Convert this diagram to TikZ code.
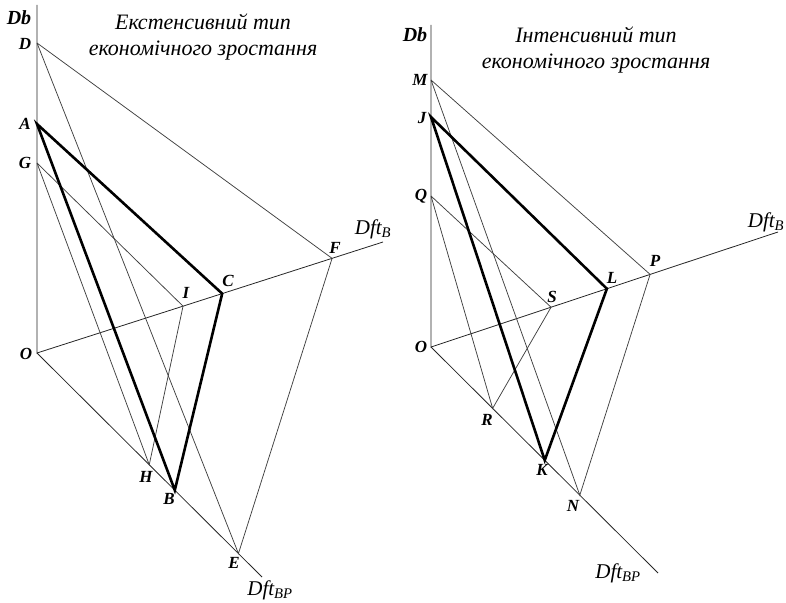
\documentclass[tikz,border=0pt]{standalone}
\usepackage{fontspec}
\setmainfont{Liberation Serif}
\usetikzlibrary{calc}
\begin{document}
\begin{tikzpicture}[x=1pt,y=-1pt,
  axis/.style={line width=0.8pt, black!85},
  thinln/.style={line width=0.75pt, black!75},
  heavy/.style={line width=2.6pt, black},
  lab/.style={font=\bfseries\itshape\fontsize{17}{17}\selectfont, inner sep=0pt},
  axlab/.style={font=\bfseries\itshape\fontsize{20}{20}\selectfont, inner sep=0pt},
  sublab/.style={font=\itshape\fontsize{21}{21}\selectfont, inner sep=0pt},
  ttl/.style={font=\itshape\fontsize{22}{26}\selectfont, align=center, inner sep=0pt}]
\useasboundingbox (0,0) rectangle (786,602);

% ---------- left diagram ----------
\coordinate (O1) at (37,353);
\coordinate (T1) at (37,5);
\coordinate (XB1) at (383,242);
\coordinate (XP1) at (262,577);
\coordinate (D) at (37,43);
\coordinate (A) at ($(O1)!(37,124)!(T1)$);
\coordinate (G) at ($(O1)!(37,163)!(T1)$);
\coordinate (I) at ($(O1)!(183,306)!(XB1)$);
\coordinate (C) at ($(O1)!(222,293)!(XB1)$);
\coordinate (F) at ($(O1)!(332,258)!(XB1)$);
\coordinate (H) at ($(O1)!(149,465)!(XP1)$);
\coordinate (B) at ($(O1)!(175,490)!(XP1)$);
\coordinate (E) at ($(O1)!(239,553)!(XP1)$);

\draw[axis] (T1) -- (O1) -- (XB1);
\draw[axis] (O1) -- (XP1);
\draw[thinln] (D) -- (F) -- (E) -- (D);
\draw[thinln] (G) -- (I) -- (H) -- (G);
\draw[heavy] (A) -- (C) -- (B) -- cycle;

\node[axlab] (Db1) at (19,18) {Db};
\node[ttl] (T1txt) at (203,37) {Екстенсивний тип\\економічного зростання};
\node[lab] (lD) at (25,44) {D};
\node[lab] (lA) at (25,124) {A};
\node[lab] (lG) at (25,163) {G};
\node[lab] (lO1) at (26,354) {O};
\node[lab] (lI) at (186,293) {I};
\node[lab] (lC) at (228,281) {C};
\node[lab] (lF) at (335,248) {F};
\node[lab] (lH) at (146,477) {H};
\node[lab] (lB) at (169,499) {B};
\node[lab] (lE) at (234,563) {E};
\node[sublab] (lXB1) at (373,229) {Dft\textsubscript{B}};
\node[sublab] (lXP1) at (270,590) {Dft\textsubscript{BP}};

% ---------- right diagram ----------
\coordinate (O2) at (431,347);
\coordinate (T2) at (431,25);
\coordinate (XB2) at (778,232);
\coordinate (XP2) at (658,573);
\coordinate (M) at (431,80);
\coordinate (J) at ($(O2)!(431,117)!(T2)$);
\coordinate (Q) at ($(O2)!(431,196)!(T2)$);
\coordinate (S) at ($(O2)!(551,307)!(XB2)$);
\coordinate (L) at ($(O2)!(607,289)!(XB2)$);
\coordinate (P) at ($(O2)!(650,274)!(XB2)$);
\coordinate (R) at ($(O2)!(493,408)!(XP2)$);
\coordinate (K) at ($(O2)!(545,460)!(XP2)$);
\coordinate (N) at ($(O2)!(580,495)!(XP2)$);

\draw[axis] (T2) -- (O2) -- (XB2);
\draw[axis] (O2) -- (XP2);
\draw[thinln] (M) -- (P) -- (N) -- (M);
\draw[thinln] (Q) -- (S) -- (R) -- (Q);
\draw[heavy] (J) -- (L) -- (K) -- cycle;

\node[axlab] (Db2) at (415,35) {Db};
\node[ttl] (T2txt) at (596,50) {Інтенсивний тип\\економічного зростання};
\node[lab] (lM) at (420,80) {M};
\node[lab] (lJ) at (422,118) {J};
\node[lab] (lQ) at (421,196) {Q};
\node[lab] (lO2) at (421,347) {O};
\node[lab] (lS) at (552,297) {S};
\node[lab] (lL) at (612,278) {L};
\node[lab] (lP) at (655,261) {P};
\node[lab] (lR) at (487,420) {R};
\node[lab] (lK) at (542,470) {K};
\node[lab] (lN) at (573,506) {N};
\node[sublab] (lXB2) at (766,222) {Dft\textsubscript{B}};
\node[sublab] (lXP2) at (618,573) {Dft\textsubscript{BP}};
\end{tikzpicture}
\end{document}
